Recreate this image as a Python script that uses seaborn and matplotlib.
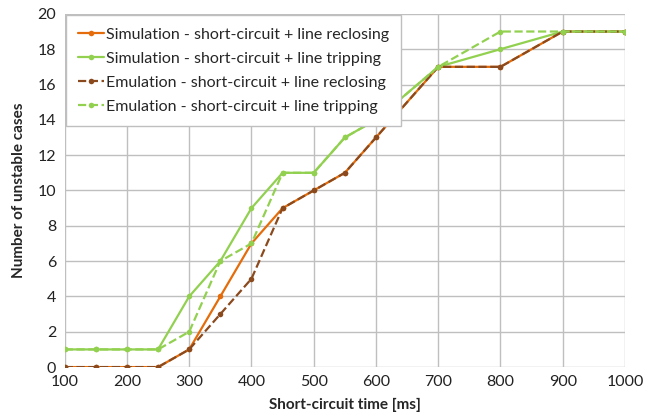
import matplotlib
matplotlib.use("Agg")
import matplotlib.pyplot as plt
import seaborn as sns
import pandas as pd

x_ms = [100, 150, 200, 250, 300, 350, 400, 450, 500, 550, 600, 700, 800, 900, 1000]
sim_reclosing = [0, 0, 0, 0, 1, 4, 7, 9, 10, 11, 13, 17, 17, 19, 19]
sim_tripping = [1, 1, 1, 1, 4, 6, 9, 11, 11, 13, 14, 17, 18, 19, 19]
emu_reclosing = [0, 0, 0, 0, 1, 3, 5, 9, 10, 11, 13, 17, 17, 19, 19]
emu_tripping = [1, 1, 1, 1, 2, 6, 7, 11, 11, 13, 14, 17, 19, 19, 19]

labels = [
    "Simulation - short-circuit + line reclosing",
    "Simulation - short-circuit + line tripping",
    "Emulation - short-circuit + line reclosing",
    "Emulation - short-circuit + line tripping",
]
series = [sim_reclosing, sim_tripping, emu_reclosing, emu_tripping]
colors = ["#E46C0A", "#92D050", "#8B4A1E", "#92D050"]
styles = ["-", "-", "--", "--"]

sns.set_theme(style="white")
plt.rcParams["font.family"] = ["Lato", "DejaVu Sans"]

fig = plt.figure(figsize=(6.6, 4.2), dpi=100)
ax = fig.add_axes([0.098, 0.126, 0.849, 0.841])

for lab, vals, col, ls in zip(labels, series, colors, styles):
    df = pd.DataFrame({"x": x_ms, "y": vals})
    sns.lineplot(data=df, x="x", y="y", ax=ax, color=col, linestyle=ls,
                 linewidth=1.6, marker="o", markersize=4, markeredgewidth=0,
                 label=lab)

ax.set_xlim(100, 1000)
ax.set_ylim(0, 20)
ax.set_xticks(range(100, 1001, 100))
ax.set_yticks(range(0, 21, 2))
ax.tick_params(labelsize=11.5, colors="#222222", length=0, pad=6)
ax.grid(True, color="#BFBFBF", linewidth=1)
for s in ax.spines.values():
    s.set_visible(False)
ax.set_xlabel("Short-circuit time [ms]", fontsize=11, fontweight="bold", labelpad=6)
ax.set_ylabel("Number of unstable cases", fontsize=11, fontweight="bold", labelpad=8)

leg = ax.legend(loc="upper left", borderaxespad=0.1, fontsize=11.5, frameon=True,
                fancybox=False, edgecolor="#BFBFBF", framealpha=1,
                handlelength=1.6, handletextpad=0.15, labelspacing=0.62,
                borderpad=0.75)
leg.get_frame().set_linewidth(1)

fig.savefig("out.png", dpi=100)
